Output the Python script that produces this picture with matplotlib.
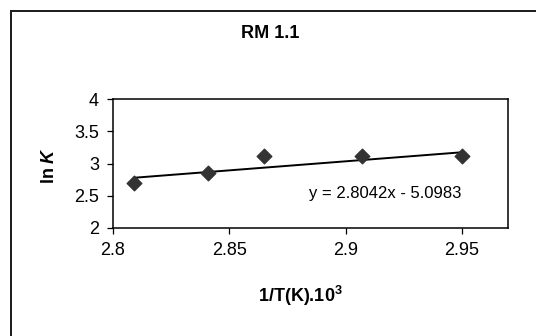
import matplotlib.pyplot as plt
import numpy as np
from matplotlib.patches import Rectangle

plt.rcParams['font.family'] = ['Liberation Sans', 'DejaVu Sans']
plt.rcParams['mathtext.fontset'] = 'custom'
plt.rcParams['mathtext.bfit'] = 'Liberation Sans:italic:bold'
plt.rcParams['mathtext.it'] = 'Liberation Sans:italic'
plt.rcParams['mathtext.bf'] = 'Liberation Sans:bold'
plt.rcParams['mathtext.rm'] = 'Liberation Sans'

# data
inv_T = [2.809, 2.841, 2.865, 2.907, 2.950]
ln_K = [2.70, 2.845, 3.11, 3.11, 3.11]
slope = 2.8042
intercept = -5.0983
xticks = [2.8, 2.85, 2.9, 2.95]
yticks = [2, 2.5, 3, 3.5, 4]

fig = plt.figure(figsize=(5.36, 3.36), dpi=100)
# outer chart frame (cropped at right and bottom)
fig.patches.append(Rectangle((11 / 536, -0.1), 1.2, 1 - 11 / 336 + 0.1,
                             transform=fig.transFigure, fill=False,
                             edgecolor='#1a1a1a', linewidth=1.4))

ax = fig.add_axes([113 / 536, 1 - 228 / 336, (508 - 113) / 536, (228 - 99) / 336])
ax.scatter(inv_T, ln_K, marker='D', s=55, color='#333333', zorder=3)
xfit = np.array([inv_T[0], inv_T[-1]])
ax.plot(xfit, slope * xfit + intercept, color='black', linewidth=1.4)

ax.set_xlim(2.8, 2.9698)
ax.set_ylim(2, 4)
ax.set_xticks(xticks)
ax.set_xticklabels(['2.8', '2.85', '2.9', '2.95'])
ax.set_yticks(yticks)
ax.set_yticklabels(['2', '2.5', '3', '3.5', '4'])
ax.tick_params(labelsize=13, length=4, width=0.9, direction='out', pad=6)
for s in ax.spines.values():
    s.set_linewidth(1.1)

ax.text(0.883, 0.27, 'y = 2.8042x - 5.0983', transform=ax.transAxes,
        ha='right', va='center', fontsize=12)

fig.text(270 / 536, 1 - 33 / 336, 'RM 1.1', ha='center', va='center',
         fontsize=13, fontweight='bold')
fig.text(300 / 536, 1 - 296 / 336, '1/T(K).10$^{\\mathbf{3}}$', ha='center', va='center',
         fontsize=13, fontweight='bold')
fig.text(50 / 536, 1 - 165 / 336, 'ln $\\mathbfit{K}$', ha='center', va='center',
         fontsize=13, fontweight='bold', rotation=90)

fig.savefig('out.png', dpi=100)
